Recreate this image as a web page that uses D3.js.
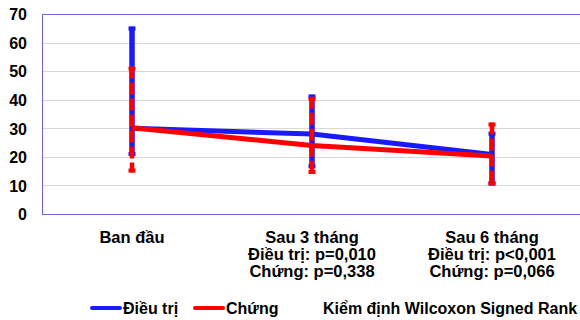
<!DOCTYPE html>
<html>
<head>
<meta charset="utf-8">
<script src="https://cdn.jsdelivr.net/npm/d3@7"></script>
<style>
  html, body { margin: 0; padding: 0; background: #fff; }
  svg text { font-family: "Liberation Sans", Arial, sans-serif; font-weight: bold; fill: #000; }
</style>
</head>
<body>
<svg id="chart" width="580" height="320"></svg>
<script>
// Time points and the test results printed under them
const categories = ["Ban đầu", "Sau 3 tháng", "Sau 6 tháng"];
const subLabels = [
  [],
  ["Điều trị: p=0,010", "Chứng: p=0,338"],
  ["Điều trị: p<0,001", "Chứng: p=0,066"]
];

// Treatment group (Điều trị): central value with lower / upper bar ends
const treatMean = [30.0, 28.0, 20.8];
const treatLow  = [20.3, 16.0, 10.0];
const treatHigh = [65.6, 41.8, 28.8];

// Control group (Chứng)
const controlMean = [30.2, 24.0, 20.3];
const controlLow  = [14.5, 14.0, 10.0];
const controlHigh = [51.6, 41.0, 32.0];

const yTicks = [0, 10, 20, 30, 40, 50, 60, 70];
const legendItems = ["Điều trị", "Chứng"];
const noteText = "Kiểm định Wilcoxon Signed Rank";

const BLUE = "#1a1aff";
const RED = "#ff0000";

const svg = d3.select("#chart");
const plotLeft = 42, plotRight = 582, plotTop = 14, plotBottom = 214;

const x = d3.scalePoint().domain(categories).range([plotLeft, plotRight]).padding(0.5);
const y = d3.scaleLinear().domain([0, 70]).range([plotBottom, plotTop]);

// gridlines
svg.append("g")
  .selectAll("line")
  .data(yTicks.filter(t => t > 0 && t < 70))
  .join("line")
  .attr("x1", plotLeft).attr("x2", plotRight)
  .attr("y1", d => Math.round(y(d)) + 0.5).attr("y2", d => Math.round(y(d)) + 0.5)
  .attr("stroke", "#d9d9d9").attr("stroke-width", 1);

// plot frame
svg.append("rect")
  .attr("x", plotLeft + 0.5).attr("y", plotTop + 0.5)
  .attr("width", plotRight - plotLeft).attr("height", plotBottom - plotTop)
  .attr("fill", "none").attr("stroke", "#7b5fe0").attr("stroke-width", 1);

// y axis labels
const yAxis = d3.axisLeft(y).tickValues(yTicks).tickSize(0).tickPadding(15);
const gy = svg.append("g").attr("transform", `translate(${plotLeft},0)`).call(yAxis);
gy.select(".domain").remove();
gy.selectAll("text").style("font-size", "16px").attr("dy", "0.36em");

// category labels and p-values
const gx = svg.append("g");
categories.forEach((c, i) => {
  const lines = [c].concat(subLabels[i]);
  lines.forEach((t, j) => {
    gx.append("text")
      .attr("x", x(c)).attr("y", 243 + j * 17)
      .attr("text-anchor", "middle")
      .style("font-size", "16.5px")
      .text(t);
  });
});

function drawSeries(mean, low, high, color, dashed) {
  const g = svg.append("g");
  const pts = categories.map((c, i) => ({ c, m: mean[i], lo: low[i], hi: high[i] }));
  // error bars
  const bars = g.append("g");
  bars.selectAll("line.v")
    .data(pts).join("line").attr("class", "v")
    .attr("x1", d => x(d.c)).attr("x2", d => x(d.c))
    .attr("y1", d => y(d.hi)).attr("y2", d => y(d.lo))
    .attr("stroke", color).attr("stroke-width", dashed ? 4.5 : 5.5)
    .attr("stroke-dasharray", dashed ? "12,4" : null);
  ["hi", "lo"].forEach(k => {
    bars.selectAll("line.cap-" + k)
      .data(pts).join("line").attr("class", "cap-" + k)
      .attr("x1", d => x(d.c) - 3.5).attr("x2", d => x(d.c) + 3.5)
      .attr("y1", d => y(d[k]) + (k === "hi" ? 2 : -2))
      .attr("y2", d => y(d[k]) + (k === "hi" ? 2 : -2))
      .attr("stroke", color).attr("stroke-width", 4);
  });
  // connecting line
  const line = d3.line().x(d => x(d.c)).y(d => y(d.m));
  g.append("path").datum(pts)
    .attr("d", line)
    .attr("fill", "none").attr("stroke", color)
    .attr("stroke-width", 5).attr("stroke-linejoin", "round");
}

drawSeries(treatMean, treatLow, treatHigh, BLUE, false);
drawSeries(controlMean, controlLow, controlHigh, RED, true);

// legend
const lg = svg.append("g");
const legendColors = [BLUE, RED];
const legendX = [90, 193];
legendItems.forEach((name, i) => {
  lg.append("line")
    .attr("x1", legendX[i] + 2).attr("x2", legendX[i] + 30)
    .attr("y1", 308).attr("y2", 308)
    .attr("stroke", legendColors[i]).attr("stroke-width", 4)
    .attr("stroke-linecap", "round");
  lg.append("text")
    .attr("x", legendX[i] + 33).attr("y", 313.5)
    .style("font-size", "16px")
    .text(name);
});
lg.append("text")
  .attr("x", 323).attr("y", 313.5)
  .style("font-size", "16px")
  .text(noteText);
</script>
</body>
</html>
